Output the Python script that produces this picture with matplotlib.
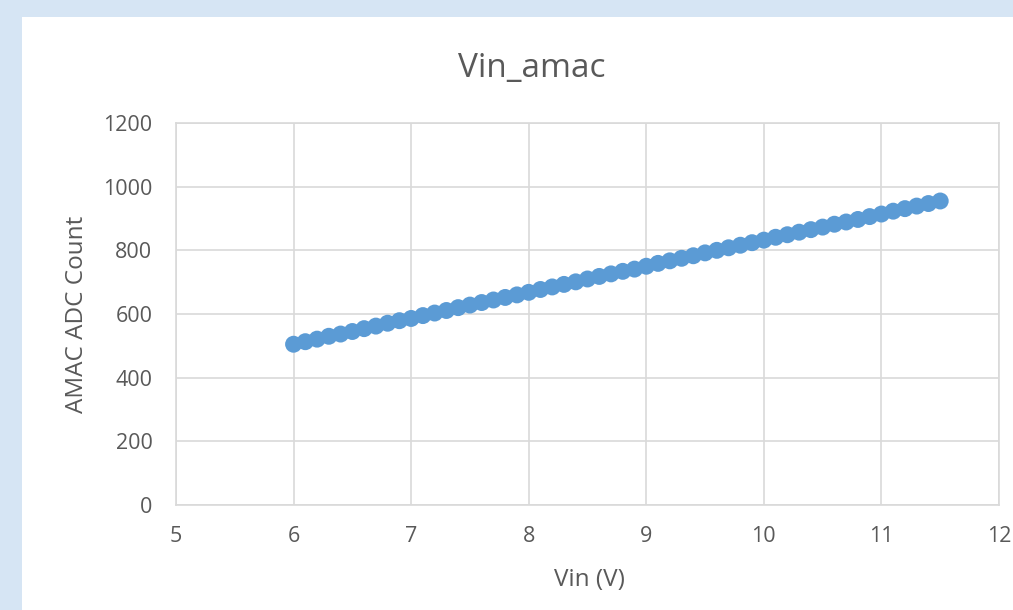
import numpy as np
import matplotlib
matplotlib.use('Agg')
import matplotlib.pyplot as plt
from matplotlib.patches import Rectangle

# Vin sweep (V) and AMAC ADC readings
vin = [6.0, 6.1, 6.2, 6.3, 6.4, 6.5, 6.6, 6.7, 6.8, 6.9,
       7.0, 7.1, 7.2, 7.3, 7.4, 7.5, 7.6, 7.7, 7.8, 7.9,
       8.0, 8.1, 8.2, 8.3, 8.4, 8.5, 8.6, 8.7, 8.8, 8.9,
       9.0, 9.1, 9.2, 9.3, 9.4, 9.5, 9.6, 9.7, 9.8, 9.9,
       10.0, 10.1, 10.2, 10.3, 10.4, 10.5, 10.6, 10.7, 10.8, 10.9,
       11.0, 11.1, 11.2, 11.3, 11.4, 11.5]
adc = [505, 513, 521, 530, 537, 545, 554, 562, 571, 579,
       586, 595, 603, 611, 620, 628, 636, 644, 652, 660,
       668, 677, 685, 693, 701, 710, 718, 726, 734, 741,
       750, 759, 767, 775, 783, 792, 800, 808, 816, 824,
       832, 841, 849, 857, 865, 873, 882, 889, 897, 906,
       914, 923, 931, 939, 947, 955]

x_ticks = [5, 6, 7, 8, 9, 10, 11, 12]
y_ticks = [0, 200, 400, 600, 800, 1000, 1200]

plt.rcParams['font.family'] = ['Open Sans', 'DejaVu Sans']
txt = '#595959'
grid = '#D9D9D9'

W, H = 1013, 610
fig = plt.figure(figsize=(W / 100, H / 100), dpi=100, facecolor='#D6E5F4')
# white chart area sitting on the light blue page
fig.patches.append(Rectangle((22 / W, 0), 1 - 22 / W, 1 - 17 / H,
                             transform=fig.transFigure, facecolor='white',
                             edgecolor='none', zorder=-10))

ax = fig.add_axes([176 / W, 1 - 505 / H, (999 - 176) / W, (505 - 123) / H])
ax.set_zorder(1)
ax.set_facecolor('none')
ax.scatter(vin, adc, s=12.2 ** 2, color='#5B9BD5', edgecolors='none', zorder=3)

ax.set_xlim(5, 12)
ax.set_ylim(0, 1200)
ax.set_xticks(x_ticks)
ax.set_yticks(y_ticks)
ax.grid(True, color=grid, linewidth=1.2)
for s in ax.spines.values():
    s.set_color(grid)
    s.set_linewidth(1.2)
ax.tick_params(length=0, labelsize=15.5, labelcolor=txt)
ax.tick_params(axis='y', pad=17)
ax.tick_params(axis='x', pad=15)

# titles placed in figure pixels like the Excel chart
fig.text(532 / W, 1 - 77 / H, 'Vin_amac', fontsize=24, color=txt,
         ha='center', va='baseline')
fig.text(589 / W, 1 - 580 / H, 'Vin (V)', fontsize=17.5, color=txt,
         ha='center', va='center')
fig.text(77 / W, 1 - 314 / H, 'AMAC ADC Count', fontsize=17.5, color=txt,
         ha='center', va='center', rotation=90)

fig.savefig('out.png', dpi=100, facecolor=fig.get_facecolor())
